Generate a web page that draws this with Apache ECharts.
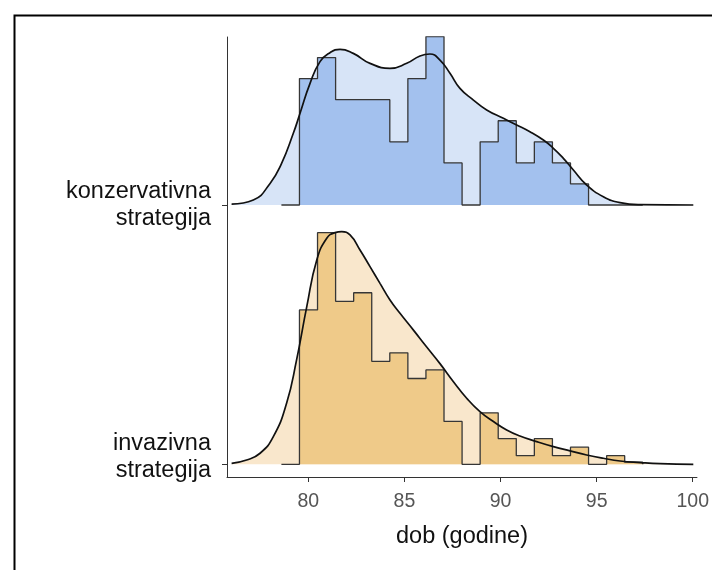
<!DOCTYPE html>
<html>
<head>
<meta charset="utf-8">
<script src="https://cdn.jsdelivr.net/npm/echarts@6/dist/echarts.min.js"></script>
<style>
html,body{margin:0;padding:0;background:#fff;}
#chart{width:712px;height:570px;}
</style>
</head>
<body>
<div id="chart"></div>
<script>
// ---- data ----
const groupLabels = ['invazivna\nstrategija', 'konzervativna\nstrategija'];
const xTicks = [80, 85, 90, 95, 100];
const binEdges = [78.6, 79.54, 80.48, 81.42, 82.36, 83.3, 84.24, 85.18, 86.12, 87.06, 88.0,
                  88.94, 89.88, 90.82, 91.76, 92.7, 93.64, 94.58, 95.52, 96.46, 97.4];
const konzCounts = [0, 6, 7, 5, 5, 5, 3, 6, 8, 2, 0, 3, 4, 2, 3, 2, 1, 0, 0, 0];
const invazCounts = [0, 18, 27, 19, 20, 12, 13, 10, 11, 5, 0, 6, 3, 1, 3, 1, 2, 0, 1, 0.25];
const konzDensX = [76.01, 77.14, 78.01, 78.61, 79.22, 79.57, 80.09, 80.61, 81.13, 81.65, 82.34,
                   83.21, 84.25, 85.12, 85.81, 86.33, 86.85, 87.37, 87.89, 88.59, 89.28, 90.15,
                   90.84, 91.53, 92.23, 92.75, 93.27, 93.79, 94.48, 95.35, 96.22, 97.26, 100.03];
const konzDensY = [0.0008, 0.0041, 0.0176, 0.0339, 0.0584, 0.0747, 0.0991, 0.1168, 0.1241, 0.1268, 0.1235,
                   0.1154, 0.1113, 0.1154, 0.1214, 0.1230, 0.1181, 0.1073, 0.0950, 0.0855, 0.0774, 0.0706,
                   0.0652, 0.0597, 0.0529, 0.0462, 0.0380, 0.0285, 0.0163, 0.0068, 0.0019, 0.0003, 0];
const invazDensX = [76.01, 76.79, 77.49, 78.18, 78.87, 79.39, 79.92, 80.44, 80.96, 81.39, 81.74, 82.17,
                    82.69, 83.21, 83.73, 84.25, 84.77, 85.46, 86.16, 86.85, 87.55, 88.24, 88.93, 89.63,
                    90.32, 91.01, 91.88, 92.75, 93.62, 94.48, 95.35, 96.22, 97.26, 98.30, 100.03];
const invazDensY = [0.0008, 0.0035, 0.0090, 0.0225, 0.0497, 0.0850, 0.1284, 0.1664, 0.1841, 0.1887, 0.1895, 0.1868,
                    0.1746, 0.1610, 0.1474, 0.1339, 0.1230, 0.1095, 0.0955, 0.0820, 0.0673, 0.0538, 0.0429, 0.0348,
                    0.0280, 0.0231, 0.0185, 0.0144, 0.0109, 0.0076, 0.0049, 0.0027, 0.0014, 0.0005, 0];

// ---- ridge scaling (height in y-units per density unit) ----
const RIDGE_SCALE = 4.735;
const FONT = "'Liberation Sans', Arial, sans-serif";

function histData(counts, base) {
  const n = counts.reduce((a, b) => a + b, 0);
  const pts = [];
  for (let i = 0; i < counts.length; i++) {
    const w = binEdges[i + 1] - binEdges[i];
    pts.push([binEdges[i], base + counts[i] / (n * w) * RIDGE_SCALE]);
  }
  const last = counts.length - 1;
  const wl = binEdges[last + 1] - binEdges[last];
  pts.push([binEdges[last + 1], base + counts[last] / (n * wl) * RIDGE_SCALE]);
  pts.push([binEdges[last + 1], base]);
  return pts;
}
function densData(xs, ys, base) {
  return xs.map((x, i) => [x, base + ys[i] * RIDGE_SCALE]);
}

const groups = [
  {base: 1, counts: konzCounts, dx: konzDensX, dy: konzDensY, dark: '#a3c1ee', light: '#d7e4f7'},
  {base: 0, counts: invazCounts, dx: invazDensX, dy: invazDensY, dark: '#efca89', light: '#f9e7cc'}
];

const series = [];
groups.forEach(g => {
  series.push({
    type: 'line', data: densData(g.dx, g.dy, g.base), smooth: 0.5,
    symbol: 'none', lineStyle: {width: 0}, areaStyle: {color: g.light, opacity: 1, origin: g.base},
    z: 1, silent: true
  });
  series.push({
    type: 'line', data: histData(g.counts, g.base), step: 'end',
    symbol: 'none', lineStyle: {color: '#363636', width: 1.3}, areaStyle: {color: g.dark, opacity: 1, origin: g.base},
    z: 2, silent: true
  });
  series.push({
    type: 'line', data: densData(g.dx, g.dy, g.base), smooth: 0.5,
    symbol: 'none', lineStyle: {color: '#111', width: 1.7},
    z: 3, silent: true
  });
});

const chart = echarts.init(document.getElementById('chart'), null, {renderer: 'canvas'});
chart.setOption({
  animation: false,
  backgroundColor: '#fff',
  grid: {left: 227, top: 37, right: 15, bottom: 93, containLabel: false},
  xAxis: {
    type: 'value', min: 75.77, max: 100.22,
    axisLine: {show: true, onZero: false, lineStyle: {color: '#333', width: 1}},
    axisTick: {show: true, length: 5, lineStyle: {color: '#333', width: 1}, customValues: xTicks},
    axisLabel: {customValues: xTicks, fontSize: 19.5, color: '#555', margin: 15, fontFamily: FONT},
    splitLine: {show: false},
    name: 'dob (godine)', nameLocation: 'middle', nameGap: 48,
    nameTextStyle: {fontSize: 23.5, color: '#111', fontFamily: FONT}
  },
  yAxis: {
    type: 'value', min: -0.049, max: 1.648,
    axisLine: {show: true, onZero: false, lineStyle: {color: '#333', width: 1}},
    axisTick: {show: true, length: 5, lineStyle: {color: '#333', width: 1}, customValues: [0, 1]},
    axisLabel: {
      customValues: [0.03, 1], fontSize: 23.5, lineHeight: 27, color: '#111', fontFamily: FONT, margin: 16,
      formatter: v => groupLabels[Math.round(v)]
    },
    splitLine: {show: false}
  },
  graphic: [{
    type: 'rect', left: 12, top: 13, silent: true,
    shape: {x: 0, y: 0, width: 800, height: 700},
    style: {fill: 'none', stroke: '#000', lineWidth: 2}
  }],
  series: series
});
</script>
</body>
</html>
